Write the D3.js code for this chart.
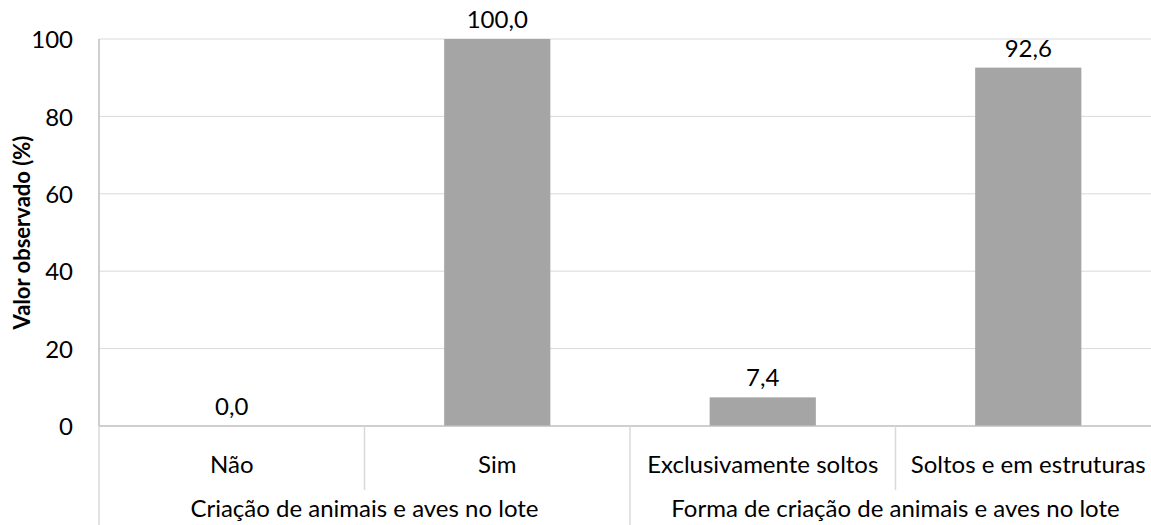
<!DOCTYPE html>
<html>
<head>
<meta charset="utf-8">
<script src="https://cdn.jsdelivr.net/npm/d3@7"></script>
<style>
  body { margin: 0; background: #fff; }
  text { font-family: Lato, "Liberation Sans", sans-serif; fill: #000; }
</style>
</head>
<body>
<div class="chart"></div>
<script>
// Data
var categories = ["Não", "Sim", "Exclusivamente soltos", "Soltos e em estruturas"];
var groups = ["Criação de animais e aves no lote", "Forma de criação de animais e aves no lote"];
var groupOf = [0, 0, 1, 1];
var values = [0.0, 100.0, 7.4, 92.6];
var yTicks = [0, 20, 40, 60, 80, 100];

var W = 1151, H = 525;
var fs = "24px";
var margin = {top: 39, right: -10, bottom: 99, left: 99};
var width = W - margin.left - margin.right,
    height = H - margin.top - margin.bottom;

var svg = d3.select(".chart").append("svg")
    .attr("width", W)
    .attr("height", H)
    .append("g")
    .attr("transform", "translate(" + margin.left + "," + margin.top + ")");

var data = categories.map(function(c, i) {
    return {cat: c, value: values[i], group: groupOf[i]};
});

// Scales
var x = d3.scaleBand().domain(categories).range([0, width]).paddingInner(0.6).paddingOuter(0.3);
var xFull = d3.scaleBand().domain(categories).range([0, width]);
var y = d3.scaleLinear().domain([0, 100]).range([height, 0]);

// Gridlines
svg.append("g")
    .selectAll("line")
    .data(yTicks.filter(function(d) { return d > 0; }))
    .enter().append("line")
    .attr("x1", 0).attr("x2", width)
    .attr("y1", function(d) { return y(d); })
    .attr("y2", function(d) { return y(d); })
    .style("stroke", "#d9d9d9")
    .style("stroke-width", 1);

// Y axis
var yaxis = d3.axisLeft(y).tickValues(yTicks).tickSize(0).tickPadding(26);
var gy = svg.append("g").call(yaxis);
gy.select(".domain").remove();
gy.selectAll("text").style("font-size", fs).attr("dy", "0.36em");

svg.append("line")
    .attr("x1", 0).attr("x2", 0)
    .attr("y1", 0).attr("y2", height)
    .style("stroke", "#bfbfbf").style("stroke-width", 1.5);

// Bars
svg.append("g")
    .selectAll("rect")
    .data(data)
    .enter().append("rect")
    .attr("x", function(d) { return x(d.cat); })
    .attr("y", function(d) { return y(d.value); })
    .attr("width", x.bandwidth())
    .attr("height", function(d) { return height - y(d.value); })
    .attr("fill", "#a5a5a5");

// Value labels
svg.append("g")
    .selectAll("text")
    .data(data)
    .enter().append("text")
    .attr("x", function(d) { return x(d.cat) + x.bandwidth() / 2; })
    .attr("y", function(d) { return y(d.value) - 11; })
    .attr("text-anchor", "middle")
    .style("font-size", fs)
    .text(function(d) { return d.value.toFixed(1).replace(".", ","); });

// Baseline
svg.append("line")
    .attr("x1", 0).attr("x2", width)
    .attr("y1", height).attr("y2", height)
    .style("stroke", "#bfbfbf").style("stroke-width", 1.5);

// Category dividers (short inside a group, long between groups)
svg.append("g")
    .selectAll("line")
    .data(categories)
    .enter().append("line")
    .attr("x1", function(d) { return xFull(d); })
    .attr("x2", function(d) { return xFull(d); })
    .attr("y1", height)
    .attr("y2", function(d, i) {
        return (i === 0 || groupOf[i] !== groupOf[i - 1]) ? H - margin.top : height + 64;
    })
    .style("stroke", "#d9d9d9").style("stroke-width", 1.5);

// Category labels
svg.append("g")
    .selectAll("text")
    .data(categories)
    .enter().append("text")
    .attr("x", function(d) { return xFull(d) + xFull.bandwidth() / 2; })
    .attr("y", height + 38)
    .attr("dy", "0.36em")
    .attr("text-anchor", "middle")
    .style("font-size", fs)
    .text(function(d) { return d; });

// Group labels
svg.append("g")
    .selectAll("text")
    .data(groups)
    .enter().append("text")
    .attr("x", function(d, gi) {
        var cats = categories.filter(function(c, i) { return groupOf[i] === gi; });
        return (xFull(cats[0]) + xFull(cats[cats.length - 1]) + xFull.bandwidth()) / 2;
    })
    .attr("y", height + 82)
    .attr("dy", "0.36em")
    .attr("text-anchor", "middle")
    .style("font-size", fs)
    .text(function(d) { return d; });

// Y axis title
svg.append("text")
    .attr("transform", "rotate(-90)")
    .attr("x", -(y(0) + y(100)) / 2)
    .attr("y", -77)
    .attr("dy", "0.36em")
    .attr("text-anchor", "middle")
    .style("font-size", "22px")
    .style("font-weight", "bold")
    .text("Valor observado (%)");
</script>
</body>
</html>
